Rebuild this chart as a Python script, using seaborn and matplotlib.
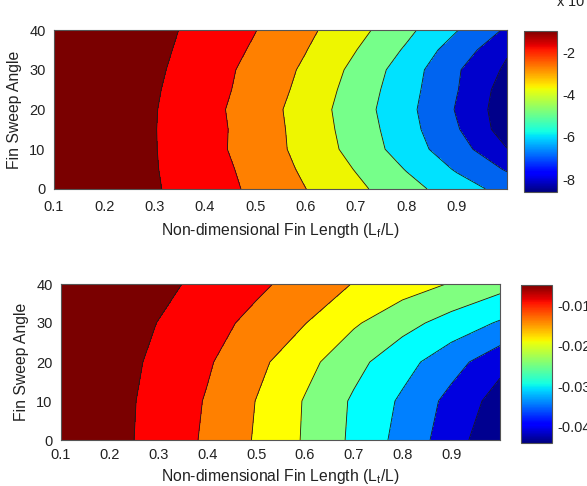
import numpy as np
import matplotlib
matplotlib.use("Agg")
import matplotlib.pyplot as plt
import matplotlib.colors as mcolors
import matplotlib.cm as cm
import seaborn as sns

# ---------------- data ----------------
fin_length = [0.1, 0.2, 0.3, 0.4, 0.5, 0.6, 0.7, 0.8, 0.9, 1.0]

# top panel values (x 10^-3), one row per sweep angle
top_sweep = [0, 5, 10, 15, 20, 25, 30, 35, 40]
top_sweep_0 = [-0.95, -1.20, -1.41, -2.05, -2.68, -3.49, -4.28, -5.14, -6.01, -6.86]
top_sweep_5 = [-0.95, -1.20, -1.447, -2.109, -2.772, -3.682, -4.552, -5.550, -6.606, -7.60]
top_sweep_10 = [-0.95, -1.20, -1.465, -2.155, -2.93, -3.83, -4.84, -5.98, -7.13, -8.28]
top_sweep_15 = [-0.95, -1.20, -1.472, -2.172, -2.885, -3.910, -4.927, -6.121, -7.421, -8.695]
top_sweep_20 = [-0.95, -1.20, -1.457, -2.171, -2.978, -3.93, -5.03, -6.21, -7.57, -8.75]
top_sweep_25 = [-0.95, -1.20, -1.409, -2.109, -2.847, -3.793, -4.915, -6.109, -7.457, -8.679]
top_sweep_30 = [-0.95, -1.20, -1.34, -2.04, -2.79, -3.66, -4.76, -5.99, -7.41, -8.44]
top_sweep_35 = [-0.95, -1.12, -1.262, -1.942, -2.622, -3.466, -4.48, -5.626, -7.013, -8.20]
top_sweep_40 = [-0.95, -1.05, -1.20, -1.83, -2.476, -3.276, -4.17, -5.256, -6.45, -7.64]
top_levels = [-9.0, -8.3, -7.5, -6.5, -5.5, -4.5, -3.5, -2.5, -1.5, -0.5]
top_clim = [-8.6, -1.0]
top_cbar_ticks = [-8, -6, -4, -2]

# bottom panel values (in thousandths), one row per sweep angle
bot_sweep = [0, 10, 20, 30, 40]
bot_sweep_0 = [-4.0, -5.70, -9.32, -13.25, -17.95, -22.99, -28.46, -34.21, -40.02, -45.5]
bot_sweep_10 = [-4.0, -5.58, -9.14, -12.88, -17.60, -22.82, -28.15, -33.29, -38.98, -43.77]
bot_sweep_20 = [-3.8, -5.22, -8.58, -11.95, -16.16, -20.90, -25.93, -30.67, -35.59, -40.75]
bot_sweep_30 = [-3.5, -4.90, -7.62, -10.65, -13.86, -17.36, -21.86, -25.78, -29.46, -33.04]
bot_sweep_40 = [-3.0, -4.50, -6.25, -8.86, -11.48, -14.48, -17.68, -20.23, -22.78, -25.65]
bot_levels = [-46.0, -42.0, -37.5, -32.5, -27.5, -22.5, -17.5, -12.5, -7.5, -2.0]
bot_clim = [-0.044, -0.005]
bot_cbar_ticks = [-0.04, -0.03, -0.02, -0.01]

x_ticks = [0.1, 0.2, 0.3, 0.4, 0.5, 0.6, 0.7, 0.8, 0.9]
y_ticks = [0, 10, 20, 30, 40]

# ---------------- styling ----------------
sns.set_theme(style="white")
plt.rcParams["font.family"] = ["Liberation Sans", "DejaVu Sans"]
plt.rcParams["mathtext.fontset"] = "custom"
plt.rcParams["mathtext.rm"] = "Liberation Sans"
plt.rcParams["mathtext.it"] = "Liberation Sans:italic"
plt.rcParams["axes.unicode_minus"] = False
plt.rcParams["contour.negative_linestyle"] = "solid"

top_colors = ["#00008a", "#0000cc", "#0064f0", "#00e2ff", "#76ff8a",
              "#eef600", "#ff8000", "#ff0000", "#7a0000"]
bot_colors = ["#000090", "#0000e0", "#0080ff", "#00ffff", "#80ff80",
              "#ffff00", "#ff8000", "#ff0000", "#7a0000"]

FS = 10.5
LFS = 11.3
TXT = "#222222"

fig = plt.figure(figsize=(5.87, 4.86), dpi=100)
ax_top = fig.add_axes([54 / 587, 1 - 189 / 486, 453 / 587, 159 / 486])
cax_top = fig.add_axes([524 / 587, 1 - 192 / 486, 33 / 587, 161 / 486])
ax_bot = fig.add_axes([61 / 587, 1 - 440 / 486, 439 / 587, 156 / 486])
cax_bot = fig.add_axes([521 / 587, 1 - 443 / 486, 31 / 587, 158 / 486])

Xt, Yt = np.meshgrid(np.array(fin_length), np.array(top_sweep))
Z_top = np.array([top_sweep_0, top_sweep_5, top_sweep_10, top_sweep_15, top_sweep_20,
                  top_sweep_25, top_sweep_30, top_sweep_35, top_sweep_40])
Xb, Yb = np.meshgrid(np.array(fin_length), np.array(bot_sweep))
Z_bot = np.array([bot_sweep_0, bot_sweep_10, bot_sweep_20, bot_sweep_30, bot_sweep_40]) * 1e-3
lev_bot = np.array(bot_levels) * 1e-3

panels = [
    (ax_top, cax_top, Xt, Yt, Z_top, np.array(top_levels), top_colors, top_clim, top_cbar_ticks,
     r"Non-dimensional Fin Length (L$_\mathrm{f}$/L)", lambda v: "%d" % v, 8, 5),
    (ax_bot, cax_bot, Xb, Yb, Z_bot, lev_bot, bot_colors, bot_clim, bot_cbar_ticks,
     r"Non-dimensional Fin Length (L$_\mathrm{t}$/L)", lambda v: "%.2f" % v, 6, 3),
]

for ax, cax, X, Y, Z, lev, cols, clim, cticks, xlabel, fmt, xpad, xlpad in panels:
    ax.contourf(X, Y, Z, levels=lev, colors=cols)
    ax.contour(X, Y, Z, levels=lev[1:-1], colors="#1a1a1a", linewidths=0.6,
               linestyles="solid")
    ax.set_xlim(0.1, 1.0)
    ax.set_ylim(0, 40)
    ax.set_xticks(x_ticks)
    ax.set_xticklabels(["%.1f" % v for v in x_ticks])
    ax.set_yticks(y_ticks)
    ax.set_yticklabels(["%d" % v for v in y_ticks])
    ax.tick_params(direction="in", length=4, width=0.6, top=True, right=True,
                   labelsize=FS, colors="#333333", labelcolor=TXT, pad=6)
    ax.tick_params(axis="x", pad=xpad)
    for s in ax.spines.values():
        s.set_linewidth(0.8)
        s.set_color("#555555")
    ax.set_xlabel(xlabel, fontsize=LFS, color=TXT, labelpad=xlpad)
    ax.set_ylabel("Fin Sweep Angle", fontsize=LFS, color=TXT, labelpad=5)

    sm = cm.ScalarMappable(norm=mcolors.Normalize(vmin=clim[0], vmax=clim[1]), cmap="jet")
    cb = fig.colorbar(sm, cax=cax)
    cb.set_ticks(cticks)
    cb.set_ticklabels([fmt(v) for v in cticks])
    cax.tick_params(direction="in", length=3, width=0.6, labelsize=FS,
                    colors="#333333", labelcolor=TXT, pad=4)
    cb.outline.set_linewidth(0.8)
    cb.outline.set_edgecolor("#555555")

fig.text(556 / 587, 1 - 7 / 486, r"x 10$^{-3}$", fontsize=FS, color=TXT,
         ha="left", va="baseline")

fig.savefig("out.png", dpi=100)
